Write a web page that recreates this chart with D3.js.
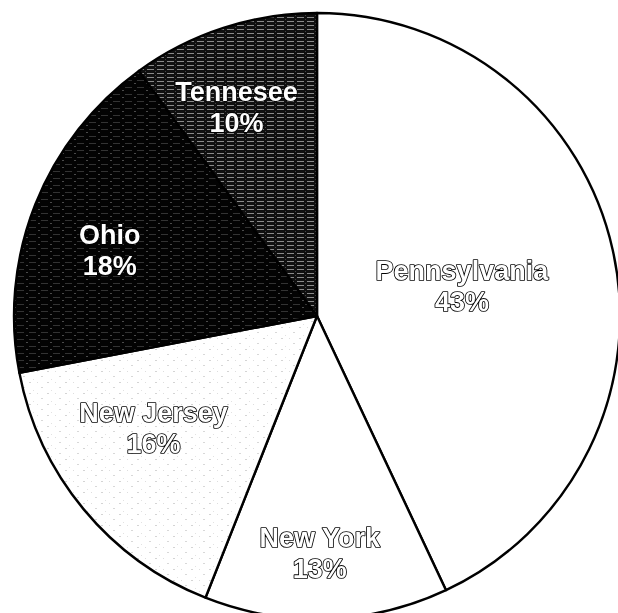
<!DOCTYPE html>
<html>
<head>
<meta charset="utf-8">
<script src="https://cdn.jsdelivr.net/npm/d3@7"></script>
<style>
  html, body { margin: 0; padding: 0; background: #fff; }
  svg { display: block; }
</style>
</head>
<body>
<svg id="chart" width="618" height="613"></svg>
<script>
// Share of the total by state
const states = ["Pennsylvania", "New York", "New Jersey", "Ohio", "Tennesee"];
const shares = [43, 13, 16, 18, 10];
const shareLabels = ["43%", "13%", "16%", "18%", "10%"];

const width = 618, height = 613;
const cx = 317, cy = 316, radius = 303;

const svg = d3.select("#chart");
const defs = svg.append("defs");

// Fill textures: plain white, sparse light stipple, near-solid black, dark halftone stripes
function makePattern(id, w, h, bg, lines) {
  const p = defs.append("pattern")
    .attr("id", id).attr("patternUnits", "userSpaceOnUse")
    .attr("width", w).attr("height", h);
  p.append("rect").attr("width", w).attr("height", h).attr("fill", bg);
  lines.forEach(l => {
    p.append("rect").attr("x", l[0]).attr("y", l[1]).attr("width", l[2]).attr("height", l[3]).attr("fill", l[4]);
  });
  return `url(#${id})`;
}

const fillLight = makePattern("stipple", 18, 11, "#fff", [
  [0, 0, 2, 1, "#d4d4d4"], [8, 0, 1, 1, "#dedede"], [12, 5, 2, 1, "#d8d8d8"], [4, 8, 1, 1, "#e2e2e2"]
]);
const fillBlack = makePattern("blackish", 12, 7, "#030303", [
  [0, 2, 7, 1, "#333"], [9, 5, 2, 1, "#4a4a4a"]
]);
const fillDark = makePattern("halftone", 10, 4, "#101010", [
  [0, 1, 7, 1, "#8a8a8a"], [8, 3, 1, 1, "#444"]
]);

const fills = ["#fff", "#fff", fillLight, fillBlack, fillDark];

const pie = d3.pie().sort(null).value(d => d).startAngle(0).endAngle(2 * Math.PI);
const arcs = pie(shares);
const arc = d3.arc().innerRadius(0).outerRadius(radius);

const g = svg.append("g").attr("transform", `translate(${cx},${cy})`);

g.selectAll("path.slice")
  .data(arcs)
  .join("path")
  .attr("class", "slice")
  .attr("d", arc)
  .attr("fill", (d, i) => fills[i])
  .attr("stroke", "#000")
  .attr("stroke-width", 2.4)
  .attr("stroke-linejoin", "round");

// Label distance from the centre, as a fraction of the radius
const labelRadius = [0.49, 0.775, 0.65, 0.72, 0.745];
const labelAngleShift = [0.0, 0.02, 0.1, -0.06, -0.05];

const labels = g.append("g")
  .attr("opacity", 0.999)
  .selectAll("g.label")
  .data(arcs)
  .join("g")
  .attr("class", "label")
  .attr("transform", (d, i) => {
    const a = (d.startAngle + d.endAngle) / 2 + labelAngleShift[i];
    const r = radius * labelRadius[i];
    return `translate(${r * Math.sin(a)},${-r * Math.cos(a)})`;
  });

labels.each(function(d, i) {
  const t = d3.select(this).append("text")
    .attr("text-anchor", "middle")
    .attr("font-family", "'Liberation Sans', Arial, Helvetica, sans-serif")
    .attr("font-weight", "bold")
    .attr("font-size", 27)
    .attr("fill", "#fff")
    .attr("stroke", "#000")
    .attr("stroke-width", 1.7)
    .attr("stroke-linejoin", "round")
    .attr("paint-order", "stroke");
  t.append("tspan").attr("x", 0).attr("y", -4).text(states[i]);
  t.append("tspan").attr("x", 0).attr("y", 27).text(shareLabels[i]);
});
</script>
</body>
</html>
